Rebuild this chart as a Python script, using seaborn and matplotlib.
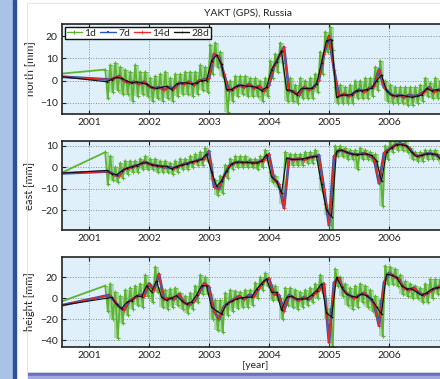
import numpy as np
import matplotlib
matplotlib.use("Agg")
import matplotlib.pyplot as plt
import seaborn as sns
from matplotlib.patches import Rectangle

# ---- data (mm), monthly samples Apr 2001 .. Dec 2006 ----
t_start = 2000.4
start_north = {"1d": 2.8, "14d": 2.0, "28d": 2.2}
start_east = {"1d": -4.5, "14d": -3.0, "28d": -3.0}
start_height = {"1d": -6.0, "14d": -8.5, "28d": -8.0}

north_28d = [-0.5, 0.5, 1.5, 1.0, 0.0, -1.0, -0.5, -1.0, -1.5,
             -3.0, -3.5, -3.0, -2.5, -4.0, -1.5, -1.0, -1.0, -1.5, -1.0, 0.0, 0.0,
             9.0, 11.5, 7.5, -4.0, -4.0, -2.5, -2.0, -2.5, -2.5, -3.0, -4.5, -3.0,
             5.0, 8.5, 13.5, -4.0, -4.5, -6.3, -3.5, -3.5, -3.5, -1.5, 8.0, 18.0,
             18.5, -7.5, -6.5, -6.5, -6.3, -4.5, -4.5, -4.0, -3.5, 0.0, 2.5, -4.5,
             -6.5, -7.0, -6.5, -7.0, -7.5, -7.0, -6.5, -3.5, -4.5, -4.0, -4.5, -5.0]
north_14d = [0.5, 1.0, 2.0, 0.0, -1.0, -0.5, -1.5, -0.5, -2.5,
             -3.5, -3.0, -4.0, -3.0, -3.5, -1.0, -1.5, -0.5, -2.0, 0.0, 0.5, 1.0,
             12.0, 10.5, 3.0, -4.5, -3.5, -2.0, -3.0, -1.5, -3.5, -2.5, -4.5, -2.0,
             6.5, 11.0, 15.0, -4.5, -5.0, -6.5, -3.0, -4.0, -3.0, 0.5, 12.0, 20.0,
             5.0, -7.0, -6.0, -7.0, -5.5, -4.0, -5.0, -3.5, -2.5, 5.0, -3.0, -5.5,
             -7.0, -6.5, -7.5, -6.5, -7.0, -6.5, -5.0, -3.0, -5.0, -4.0, -5.0, -4.5]
north_1d_hi = [5, 7, 8, 6, 5, 4, 7, 4, 4,
               1, 2, 3, 4, 1, 3, 3, 4, 4, 4, 7, 6,
               16, 17, 13, 0, 0, 2, 2, 2, 1, 1, 0, 1,
               9, 12, 17, 0, 1, -2, 1, 0, 1, 3, 13, 22,
               24, -3, -2, -3, -2, 0, 0, 1, 1, 6, 9, 0,
               -2, -3, -3, -3, -3, -3, -2, 1, -1, 1, 0, 0]
north_1d_lo = [-8, -5, -4, -6, -6, -9, -7, -6, -7,
               -9, -8, -9, -8, -9, -7, -6, -6, -7, -6, -4, -5,
               3, 6, 2, -14, -9, -7, -6, -7, -7, -7, -9, -7,
               1, 4, 8, -9, -9, -10, -8, -8, -8, -5, 3, 13,
               14, -10, -10, -10, -10, -8, -8, -8, -7, -4, -2, -9,
               -10, -10, -10, -11, -11, -10, -9, -7, -8, -8, -8, -9]

east_28d = [-1.5, -3.0, -3.5, -1.8, -0.5, 0.2, 0.8, 1.8, 2.2,
            1.2, 0.8, 0.5, 0.5, -0.8, 0.3, 1.0, 1.5, 2.5, 3.0, 3.6, 6.0,
            -2.0, -8.8, -6.5, -1.9, 1.5, 2.3, 2.3, 2.3, 2.0, 2.0, 2.8, 5.9,
            -4.5, -6.5, -12.0, 4.3, 3.6, 3.6, 3.8, 4.3, 4.8, 5.1, -8.0, -20.0,
            -23.0, 7.4, 8.0, 7.0, 6.2, 5.9, 6.0, 6.2, 5.5, 3.0, -6.5, 7.0,
            9.0, 10.5, 10.5, 10.0, 7.0, 5.0, 5.5, 6.2, 6.2, 6.0, 3.0, 2.5]
east_14d = [-2.0, -3.5, -4.0, -1.0, -0.5, 0.5, 1.0, 2.5, 1.5,
            1.0, 0.5, 0.0, 0.0, -0.5, 0.5, 1.5, 2.0, 2.5, 3.5, 4.0, 7.5,
            -9.0, -10.0, -4.0, 0.5, 2.0, 2.5, 2.0, 2.5, 2.0, 2.5, 3.5, 6.0,
            -5.5, -8.0, -19.0, 4.0, 3.5, 4.0, 3.5, 4.5, 5.0, 5.5, -10.0, -27.0,
            5.0, 8.0, 7.5, 6.5, 6.0, 6.0, 6.5, 5.5, 4.0, -7.5, 6.5, 8.5,
            10.0, 11.0, 10.5, 9.0, 6.0, 5.0, 6.0, 6.5, 6.0, 5.0, 3.0, 2.0]
east_1d_hi = [7, 5, 0, 2, 3, 3, 3, 4, 5,
              4, 4, 3, 3, 2, 3, 4, 4, 5, 6, 7, 9,
              2, -6, -4, 1, 4, 5, 5, 5, 4, 4, 5, 8,
              -2, -4, -10, 7, 6, 6, 6, 7, 7, 8, -5, -17,
              -19, 10, 10, 9, 8, 8, 9, 8, 7, 6, -3, 10,
              12, 13, 13, 12, 9, 7, 7, 8, 8, 8, 6, 5]
east_1d_lo = [-8, -6, -7, -5, -3, -2, -2, -1, -1,
              -1, -2, -2, -2, -3, -2, -1, -1, 0, 1, 1, 3,
              -6, -13, -12, -5, -1, 0, 0, 0, 0, -1, 0, 3,
              -7, -9, -17, 1, 1, 1, 1, 2, 2, 3, -11, -22,
              -30, 5, 5, 4, 4, -1, 4, 4, 3, 0, -18, 4,
              7, 8, 8, 7, 4, 3, 3, 4, 4, 4, 1, 0]

height_28d = [0.0, 1.0, -5.5, -10.0, -4.0, -2.2, 2.5, 1.5, 12.0,
              6.0, 16.5, 1.0, -2.0, 0.5, 2.5, -2.2, -5.5, -3.5, 3.0, 12.0, 12.0,
              -8.5, -12.0, -15.0, -5.5, -3.0, -0.6, 0.5, 1.0, 1.0, 8.5, 14.0, 18.4,
              5.7, 5.7, -11.5, 1.0, 2.0, -0.6, -0.6, -0.5, 3.0, 7.3, 14.0, -14.0,
              -18.0, 20.0, 10.5, 4.0, 2.0, 1.0, 4.0, 2.5, -1.0, -8.0, -15.0, 23.0,
              22.0, 20.0, 12.0, 9.0, 9.0, 6.0, 3.0, 5.0, 8.5, 10.0, 10.5, 9.0]
height_14d = [3.0, -2.0, -8.0, -11.0, -3.0, 0.0, 3.0, 2.0, 14.0,
              8.0, 23.0, -1.0, 0.0, -1.0, 4.0, -4.0, -6.0, -3.0, 5.0, 14.0, 11.0,
              -12.0, -20.0, -8.0, -4.0, -1.0, 2.0, -1.0, 3.0, 2.0, 10.0, 16.0, 19.0,
              4.0, 3.0, -12.0, 3.0, 0.0, -2.0, 1.0, -1.0, 4.0, 8.0, 14.0, -42.0,
              15.0, 19.0, 7.0, 3.0, 0.0, 3.0, 5.0, 1.0, -5.0, -26.0, 15.0, 24.0,
              21.0, 18.0, 10.0, 8.0, 10.0, 5.0, 3.0, 6.0, 9.0, 11.0, 9.0, 8.0]
height_1d_hi = [12, 14, 6, 2, 8, 10, 12, 14, 22,
                14, 30, 10, 8, 9, 10, 5, 2, 5, 12, 22, 20,
                4, -2, -2, 5, 8, 7, 6, 8, 8, 15, 20, 24,
                14, 12, 0, 10, 10, 8, 6, 8, 10, 14, 22, 0,
                -10, 28, 20, 14, 10, 12, 14, 12, 8, 2, -2, 31,
                30, 28, 22, 16, 14, 12, 10, 14, 18, 18, 18, 16]
height_1d_lo = [-12, -20, -38, -24, -16, -10, -6, -8, 2,
                -4, 6, -8, -10, -8, -6, -10, -14, -10, -4, 4, 4,
                -20, -30, -32, -16, -12, -9, -8, -8, -6, 0, 8, 12,
                -2, -2, -20, -6, -8, -10, -8, -6, -4, 0, 6, -20,
                -46, 12, 2, -6, -10, -8, -4, -8, -12, -18, -36, 14,
                14, 12, 4, 2, 0, 0, -4, -4, 0, 4, 4, 2]

years = [2001, 2002, 2003, 2004, 2005, 2006]
labels = ["north [mm]", "east [mm]", "height [mm]"]
ylims = [(-15, 25.5), (-29.2, 12.2), (-46.4, 39.3)]
yticks = [[-10, 0, 10, 20], [-20, -10, 0, 10], [-40, -20, 0, 20]]

# month mid points, Apr 2001 .. Dec 2006
t_mon = 2001.25 + (np.arange(69) + 0.5) / 12.0

c_1d, c_7d, c_14d, c_28d = "#5cb531", "#2456b8", "#ee2a24", "#111111"

sns.set_style("ticks")
plt.rcParams['font.family'] = ['Lato', 'DejaVu Sans']

fig = plt.figure(figsize=(4.4, 3.79), dpi=100)
W, H = 440.0, 379.0

# page decoration (blue side bar, card border, shadow)
fig.patches.append(Rectangle((0, 0), 13 / W, 1, transform=fig.transFigure, color="#a9c3e6", zorder=0))
fig.patches.append(Rectangle((13 / W, 0), 3 / W, 1, transform=fig.transFigure, color="#2d4f9e", zorder=0))
fig.patches.append(Rectangle((27 / W, 7 / H), 1, 369 / H, transform=fig.transFigure,
                             fill=False, ec="#e2e2e2", lw=0.6, zorder=0))
fig.patches.append(Rectangle((28 / W, 3 / H), 1, 3.5 / H, transform=fig.transFigure, color="#6a6ec4", zorder=0))
fig.patches.append(Rectangle((28 / W, 0), 1, 3 / H, transform=fig.transFigure, color="#a3a8de", zorder=0))

series = [
    (start_north, north_1d_hi, north_1d_lo, north_14d, north_28d),
    (start_east, east_1d_hi, east_1d_lo, east_14d, east_28d),
    (start_height, height_1d_hi, height_1d_lo, height_14d, height_28d),
]
tops = [24, 141, 257]
bots = [114, 230, 347]

for i, (st, hi, lo, n14, n28) in enumerate(series):
    ax = fig.add_axes([62 / W, 1 - bots[i] / H, 7 * 60 / W, (bots[i] - tops[i]) / H])
    ax.set_facecolor("#dff0fa")

    # 1d: high / low of each month alternated, plus the daily spread as a light band
    x1 = np.concatenate([[t_start], np.column_stack([t_mon - 1 / 48, t_mon + 1 / 48]).ravel()])
    y1 = np.concatenate([[st["1d"]], np.column_stack([hi, lo]).ravel()])
    x14 = np.concatenate([[t_start], t_mon + 1 / 24])
    y14 = np.concatenate([[st["14d"]], n14])
    x28 = np.concatenate([[t_start], t_mon])
    y28 = np.concatenate([[st["28d"]], n28])

    ax.fill_between(t_mon, lo, hi, color=c_1d, alpha=0.4, lw=0, step="mid")

    kw = dict(ax=ax, estimator=None, legend=False)
    sns.lineplot(x=x1, y=y1, color=c_1d, lw=1.3, marker="+", ms=3, mew=0.8,
                 mec=c_1d, label="1d", **kw)
    sns.lineplot(x=x14, y=y14, color=c_7d, lw=2.0, marker="s", ms=1.6, mew=0,
                 mec=c_7d, label="7d", **kw)
    sns.lineplot(x=x14, y=y14, color=c_14d, lw=1.0, marker="+", ms=2.2, mew=0.5,
                 mec=c_14d, label="14d", **kw)
    sns.lineplot(x=x28, y=y28, color=c_28d, lw=0.8, marker="+", ms=2.0, mew=0.5,
                 mec=c_28d, label="28d", **kw)

    ax.set_xlim(2000.55, 2007.55)
    ax.set_ylim(*ylims[i])
    ax.set_xticks(years)
    ax.set_xticklabels([str(y) for y in years])
    ax.set_yticks(yticks[i])
    ax.set_yticklabels([str(v).replace("-", "\u2212") for v in yticks[i]])
    ax.grid(True, ls=":", color="#8c8c8c", lw=0.7)
    ax.tick_params(direction="in", top=True, right=False, length=3, width=0.8,
                   labelsize=7.5, pad=3, colors="#222222")
    for s in ax.spines.values():
        s.set_linewidth(1.2)
        s.set_color("#222222")
    ax.set_xlabel("")
    ax.set_ylabel(labels[i], fontsize=8, color="#222222")
    ax.yaxis.set_label_coords((35 - 62) / 420.0, 0.5)

    if i == 0:
        h, l = ax.get_legend_handles_labels()
        leg = ax.legend(h, l, loc="upper left", bbox_to_anchor=(65 / W, 1 - 27 / H),
                        bbox_transform=fig.transFigure, ncol=4, fontsize=7.5, frameon=True,
                        fancybox=False, edgecolor="#111111", framealpha=1, handlelength=1.5,
                        handletextpad=0.2, columnspacing=0.4, borderpad=0.15, borderaxespad=0)
        leg.get_frame().set_linewidth(1.0)
        for lh in leg.get_lines():
            lh.set_linewidth(1.0)

fig.text(248 / W, 1 - 13 / H, "YAKT (GPS), Russia", ha="center", va="center", fontsize=7.5, color="#222222")
fig.text(255 / W, 1 - 366 / H, "[year]", ha="center", va="center", fontsize=7.5, color="#222222")

fig.savefig("out.png", dpi=100)
